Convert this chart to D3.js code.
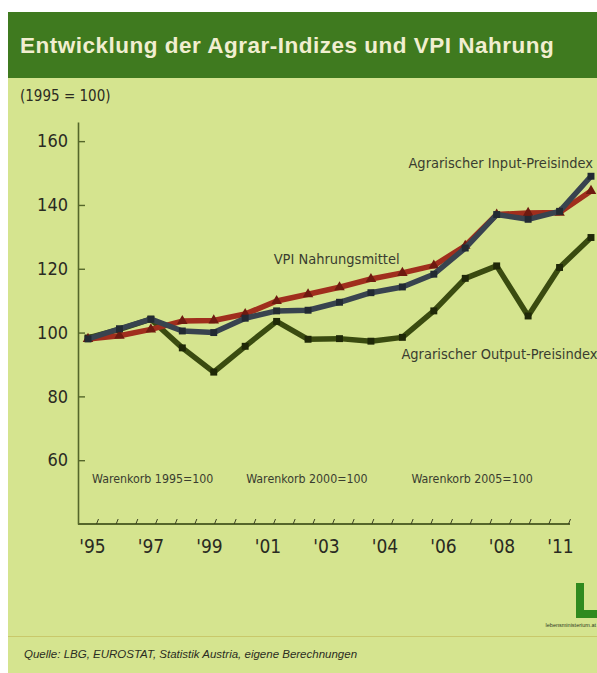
<!DOCTYPE html>
<html>
<head>
<meta charset="utf-8">
<script src="https://cdn.jsdelivr.net/npm/d3@7/dist/d3.min.js"></script>
<style>
  body { margin: 0; background: #ffffff; }
  svg { display: block; }
</style>
</head>
<body>
<svg id="chart" width="597" height="673"></svg>
<script>
// Index series, 1995 = 100
const years = [1995, 1996, 1997, 1998, 1999, 2000, 2001, 2002, 2003, 2004, 2005, 2006, 2007, 2008, 2009, 2010, 2011];
const inputIndex  = [98.0, 101.2, 104.2, 100.5, 100.0, 104.5, 106.8, 107.0, 109.5, 112.5, 114.3, 118.3, 126.5, 137.0, 135.5, 138.0, 149.0];
const vpiFood     = [98.0,  99.0, 101.0, 103.6, 103.8, 105.8, 109.9, 112.0, 114.2, 116.8, 118.7, 121.0, 127.2, 137.0, 137.5, 137.6, 144.4];
const outputIndex = [98.3, 101.0, 104.2,  95.2,  87.6,  95.7, 103.5,  97.9,  98.1,  97.3,  98.5, 106.8, 117.0, 120.9, 105.2, 120.4, 129.8];

const yTickValues = [60, 80, 100, 120, 140, 160];
const xTickLabels = ["'95", "'97", "'99", "'01", "'03", "'04", "'06", "'08", "'11"];
const minorTicks = d3.range(25);
const basketLabels = ["Warenkorb 1995=100", "Warenkorb 2000=100", "Warenkorb 2005=100"];

const NARROW = "'Liberation Sans Narrow','Arial Narrow','DejaVu Sans Condensed',sans-serif";
const SANS = "'Liberation Sans',Arial,sans-serif";

const svg = d3.select("#chart");

// card background and header band
svg.append("rect").attr("x", 8).attr("y", 12).attr("width", 589).attr("height", 661).attr("fill", "#d5e48f");
svg.append("rect").attr("x", 8).attr("y", 12).attr("width", 589).attr("height", 66).attr("fill", "#3f7a1f");
svg.append("text")
  .attr("x", 20).attr("y", 53)
  .attr("font-family", SANS).attr("font-weight", "bold").attr("font-size", 22.5)
  .attr("letter-spacing", 0.5)
  .attr("fill", "#f1eed0")
  .text("Entwicklung der Agrar-Indizes und VPI Nahrung");
svg.append("text")
  .attr("x", 20).attr("y", 101)
  .attr("font-family", NARROW).attr("font-size", 15)
  .attr("fill", "#2b2b22")
  .text("(1995 = 100)");

// scales
const x = d3.scaleLinear().domain([1995, 2011]).range([88, 591]);
const y = d3.scaleLinear().domain([40, 166]).range([524, 122]);
const xMinor = d3.scaleLinear().domain([0, 24]).range([97, 569]);
const xLabel = d3.scalePoint().domain(xTickLabels).range([92, 560]);

const axisColor = "#55662a";

// y axis, ticks pointing into the plot
const yAxis = svg.append("g").attr("transform", `translate(78,0)`)
  .call(d3.axisLeft(y).tickValues(yTickValues).tickSizeInner(-7).tickSizeOuter(0).tickPadding(10));
yAxis.select(".domain").attr("stroke", axisColor).attr("stroke-width", 1.6);
yAxis.selectAll(".tick line").attr("stroke", axisColor).attr("stroke-width", 1.4);
yAxis.selectAll(".tick text").attr("font-family", NARROW).attr("font-size", 18).attr("fill", "#2a2a22");

// x axis: baseline with small slanted ticks
const xAxis = svg.append("g").attr("transform", `translate(0,524)`)
  .call(d3.axisBottom(xMinor).tickValues(minorTicks).tickSizeInner(-5).tickSizeOuter(0).tickFormat(""));
xAxis.select(".domain").attr("stroke", axisColor).attr("stroke-width", 1.8).attr("d", `M78,0H570`);
xAxis.selectAll(".tick line").attr("stroke", "#3b4020").attr("stroke-width", 1).attr("x1", -1).attr("x2", 1);

// x labels
const xLab = svg.append("g").attr("transform", `translate(0,524)`)
  .call(d3.axisBottom(xLabel).tickSize(0).tickPadding(16));
xLab.select(".domain").remove();
xLab.selectAll(".tick text").attr("font-family", NARROW).attr("font-size", 19).attr("fill", "#2a2a22");

// lines
const series = [
  { name: "Agrarischer Output-Preisindex", values: outputIndex, color: "#3a4b10", marker: "#1f2808", shape: "square" },
  { name: "VPI Nahrungsmittel", values: vpiFood, color: "#a02e1d", marker: "#6e1a10", shape: "triangle" },
  { name: "Agrarischer Input-Preisindex", values: inputIndex, color: "#38434f", marker: "#222a33", shape: "square" }
];

const line = d3.line().x((d, i) => x(years[i])).y(d => y(d));

series.forEach(s => {
  svg.append("path")
    .attr("d", line(s.values))
    .attr("fill", "none")
    .attr("stroke", s.color)
    .attr("stroke-width", 5.5)
    .attr("stroke-linejoin", "round");
  const sym = d3.symbol().type(s.shape === "triangle" ? d3.symbolTriangle : d3.symbolSquare).size(48);
  svg.append("g").selectAll("path")
    .data(s.values)
    .join("path")
    .attr("transform", (d, i) => `translate(${x(years[i])},${y(d)})`)
    .attr("d", sym)
    .attr("fill", s.marker);
});

// series annotations
const annoStyle = sel => sel.attr("font-family", NARROW).attr("font-size", 14.5).attr("fill", "#3a3d30");
svg.append("text").call(annoStyle)
  .attr("x", x(2011) + 2).attr("y", y(153.2)).attr("dy", "0.35em").attr("text-anchor", "end")
  .text("Agrarischer Input-Preisindex");
svg.append("text").call(annoStyle)
  .attr("x", x(2001) - 3).attr("y", y(123.0)).attr("dy", "0.35em")
  .text("VPI Nahrungsmittel");
svg.append("text").call(annoStyle)
  .attr("x", x(2005) - 1).attr("y", y(93.3)).attr("dy", "0.35em")
  .text("Agrarischer Output-Preisindex");

// basket reference labels
const basketX = [x(1995) + 4, x(2000) + 1, x(2005) + 9];
svg.append("g").selectAll("text")
  .data(basketLabels)
  .join("text")
  .call(annoStyle)
  .attr("font-size", 12.3)
  .attr("x", (d, i) => basketX[i])
  .attr("y", y(54.2)).attr("dy", "0.35em")
  .text(d => d);

// logo
const logo = svg.append("g");
logo.append("path")
  .attr("d", "M576,583 H584 V610 H597 V618 H576 Z")
  .attr("fill", "#2f8a1e");
logo.append("text")
  .attr("x", 596).attr("y", 627).attr("text-anchor", "end")
  .attr("font-family", SANS).attr("font-size", 5.5).attr("fill", "#2f3a22")
  .text("lebensministerium.at");

// footer
svg.append("line").attr("x1", 8).attr("x2", 597).attr("y1", 636.5).attr("y2", 636.5)
  .attr("stroke", "#c9c86a").attr("stroke-width", 1);
svg.append("text")
  .attr("x", 24).attr("y", 658)
  .attr("font-family", SANS).attr("font-style", "italic").attr("font-size", 11.5)
  .attr("fill", "#2b2d22")
  .text("Quelle: LBG, EUROSTAT, Statistik Austria, eigene Berechnungen");
</script>
</body>
</html>
